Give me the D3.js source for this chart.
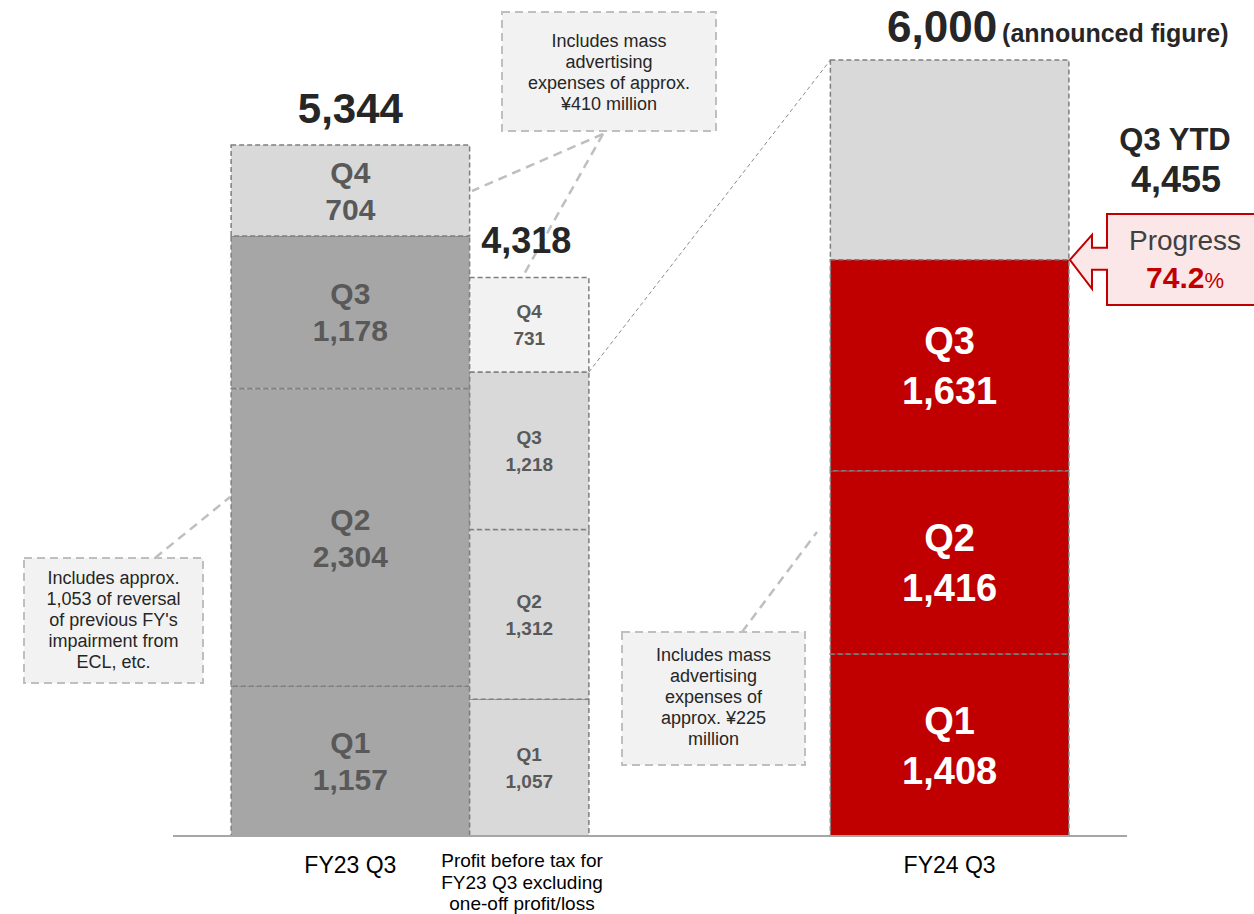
<!DOCTYPE html>
<html>
<head>
<meta charset="utf-8">
<script src="https://cdn.jsdelivr.net/npm/d3@7"></script>
<style>
  body { margin: 0; background: #fff; }
  text { font-family: "Liberation Sans", Arial, sans-serif; }
</style>
</head>
<body>
<div id="chart"></div>
<script>
var svgWidth = 1254;
var svgHeight = 914;

// data
var quarters = ["Q1", "Q2", "Q3", "Q4"];
var fy23Values = [1157, 2304, 1178, 704];
var adjValues = [1057, 1312, 1218, 731];
var fy24Values = [1408, 1416, 1631];
var categories = ["FY23 Q3", "FY24 Q3"];
var totalLabels = ["5,344", "4,318", "6,000"];
var fy24Target = 6000;
var fy24Ytd = 4455;

var svg = d3.select("#chart")
  .append("svg")
  .attr("width", svgWidth)
  .attr("height", svgHeight);

var xScale = d3.scaleBand()
  .domain(categories)
  .range([173, 1127])
  .paddingInner(0.602)
  .paddingOuter(0.097);

var yScale = d3.scaleLinear()
  .domain([0, fy24Target])
  .range([836, 60]);

var bw = xScale.bandwidth();
var fmt = d3.format(",");

// stack helper
function stack(values) {
  var acc = 0;
  return values.map(function(v, i) {
    var d = { q: quarters[i], value: v, y0: acc, y1: acc + v };
    acc += v;
    return d;
  });
}

var fy23Stack = stack(fy23Values);
var adjStack = stack(adjValues);
var fy24Stack = stack(fy24Values);

// callout boxes (drawn first, behind the bars)
function callout(x, y, w, h, lines, firstBase) {
  svg.append("rect")
    .attr("x", x).attr("y", y).attr("width", w).attr("height", h)
    .attr("fill", "#f2f2f2")
    .attr("stroke", "#bfbfbf")
    .attr("stroke-width", 2)
    .attr("stroke-dasharray", "8,5");
  lines.forEach(function(t, i) {
    svg.append("text")
      .attr("x", x + w / 2)
      .attr("y", firstBase + i * 21)
      .attr("text-anchor", "middle")
      .attr("font-size", "18px")
      .attr("fill", "#262626")
      .text(t);
  });
}

function leader(x1, y1, x2, y2) {
  svg.append("line")
    .attr("x1", x1).attr("y1", y1).attr("x2", x2).attr("y2", y2)
    .attr("stroke", "#bfbfbf")
    .attr("stroke-width", 2.5)
    .attr("stroke-dasharray", "9,6");
}

// segments
function drawSegments(data, x0, width, fillFn) {
  svg.append("g").selectAll("rect")
    .data(data)
    .enter()
    .append("rect")
    .attr("x", x0)
    .attr("y", d => yScale(d.y1))
    .attr("width", width)
    .attr("height", d => yScale(d.y0) - yScale(d.y1))
    .attr("fill", fillFn)
    .attr("stroke", "#7f7f7f")
    .attr("stroke-width", 1.5)
    .attr("stroke-dasharray", "5,3");
}

function drawLabels(data, cx, size, spacing, color) {
  var cap = size * 0.716;
  var g = svg.append("g").selectAll("g")
    .data(data)
    .enter()
    .append("g");
  g.append("text")
    .attr("x", cx)
    .attr("y", d => (yScale(d.y0) + yScale(d.y1)) / 2 - spacing / 2 + cap / 2)
    .attr("text-anchor", "middle")
    .attr("font-size", size + "px")
    .attr("font-weight", "bold")
    .attr("fill", color)
    .text(d => d.q);
  g.append("text")
    .attr("x", cx)
    .attr("y", d => (yScale(d.y0) + yScale(d.y1)) / 2 + spacing / 2 + cap / 2)
    .attr("text-anchor", "middle")
    .attr("font-size", size + "px")
    .attr("font-weight", "bold")
    .attr("fill", color)
    .text(d => fmt(d.value));
}

var x23 = xScale("FY23 Q3");
var xAdj = x23 + bw;
var x24 = xScale("FY24 Q3");

// leaders
leader(603, 134, 472, 191);
leader(603, 134, 523, 276);
leader(155, 558, 230, 497);
leader(742, 632, 817, 532);

// fine zoom line from adjusted Q3 top to FY24 target top
svg.append("line")
  .attr("x1", xAdj + bw / 2).attr("y1", yScale(adjStack[2].y1))
  .attr("x2", x24).attr("y2", yScale(fy24Target))
  .attr("stroke", "#8c8c8c")
  .attr("stroke-width", 1)
  .attr("stroke-dasharray", "4,3");

callout(502, 12, 214, 119, ["Includes mass", "advertising", "expenses of approx.", "¥410 million"], 47);
callout(24, 558, 179, 125, ["Includes approx.", "1,053 of reversal", "of previous FY's", "impairment from", "ECL, etc."], 584);
callout(622, 632, 183, 133, ["Includes mass", "advertising", "expenses of", "approx. ¥225", "million"], 661);

drawSegments(fy23Stack, x23, bw, d => d.q === "Q4" ? "#d9d9d9" : "#a6a6a6");
drawSegments(adjStack, xAdj, bw / 2, d => d.q === "Q4" ? "#f2f2f2" : "#d9d9d9");
drawSegments([{ q: "rest", y0: fy24Ytd, y1: fy24Target }], x24, bw, "#d9d9d9");
drawSegments(fy24Stack, x24, bw, "#c00000");

drawLabels(fy23Stack, x23 + bw / 2, 30, 37, "#595959");
drawLabels(adjStack, xAdj + bw / 4, 19, 27, "#595959");
drawLabels(fy24Stack, x24 + bw / 2, 38, 50, "#ffffff");

// axis line
svg.append("line")
  .attr("x1", 173).attr("x2", 1127)
  .attr("y1", yScale(0)).attr("y2", yScale(0))
  .attr("stroke", "#a6a6a6")
  .attr("stroke-width", 2);

// totals
svg.append("text")
  .attr("x", x23 + bw / 2)
  .attr("y", yScale(5344) - 22)
  .attr("text-anchor", "middle")
  .attr("font-size", "42px")
  .attr("font-weight", "bold")
  .attr("fill", "#262626")
  .text(totalLabels[0]);

svg.append("text")
  .attr("x", xAdj + bw / 4 - 3)
  .attr("y", yScale(d3.sum(adjValues)) - 25)
  .attr("text-anchor", "middle")
  .attr("font-size", "36px")
  .attr("font-weight", "bold")
  .attr("fill", "#262626")
  .text(totalLabels[1]);

var topLabel = svg.append("text")
  .attr("x", 887)
  .attr("y", yScale(fy24Target) - 18)
  .attr("font-weight", "bold")
  .attr("fill", "#262626");
topLabel.append("tspan").attr("font-size", "44px").text(totalLabels[2]);
topLabel.append("tspan").attr("font-size", "25px").attr("dx", 5).text("(announced figure)");

svg.append("text")
  .attr("x", 1175).attr("y", 150)
  .attr("text-anchor", "middle")
  .attr("font-size", "31px")
  .attr("font-weight", "bold")
  .attr("fill", "#262626")
  .text("Q3 YTD");

svg.append("text")
  .attr("x", 1176).attr("y", 192)
  .attr("text-anchor", "middle")
  .attr("font-size", "36px")
  .attr("font-weight", "bold")
  .attr("fill", "#262626")
  .text(fmt(fy24Ytd));

// progress arrow callout
var tipX = x24 + bw + 1;
var tipY = yScale(fy24Ytd);
var arrowPath = [
  [tipX, tipY],
  [1092, tipY - 25],
  [1092, tipY - 12],
  [1107, tipY - 12],
  [1107, 214],
  [1262, 214],
  [1262, 305],
  [1107, 305],
  [1107, tipY + 10],
  [1092, tipY + 10],
  [1092, tipY + 29]
];
svg.append("path")
  .attr("d", d3.line()(arrowPath) + "Z")
  .attr("fill", "#fbe7e7")
  .attr("stroke", "#c00000")
  .attr("stroke-width", 2);

svg.append("text")
  .attr("x", 1185).attr("y", 250)
  .attr("text-anchor", "middle")
  .attr("font-size", "28px")
  .attr("fill", "#404040")
  .text("Progress");

var pct = svg.append("text")
  .attr("x", 1185).attr("y", 288)
  .attr("text-anchor", "middle")
  .attr("fill", "#c00000");
pct.append("tspan").attr("font-size", "30px").attr("font-weight", "bold")
  .text((Math.floor(fy24Ytd / fy24Target * 1000) / 10).toFixed(1));
pct.append("tspan").attr("font-size", "22px").text("%");

// category labels
svg.append("text")
  .attr("x", x23 + bw / 2).attr("y", 873)
  .attr("text-anchor", "middle")
  .attr("font-size", "23px")
  .attr("fill", "#000")
  .text(categories[0]);

svg.append("text")
  .attr("x", x24 + bw / 2).attr("y", 873)
  .attr("text-anchor", "middle")
  .attr("font-size", "23px")
  .attr("fill", "#000")
  .text(categories[1]);

["Profit before tax for", "FY23 Q3 excluding", "one-off profit/loss"].forEach(function(t, i) {
  svg.append("text")
    .attr("x", 522).attr("y", 867 + i * 21.5)
    .attr("text-anchor", "middle")
    .attr("font-size", "19px")
    .attr("fill", "#000")
    .text(t);
});
</script>
</body>
</html>
